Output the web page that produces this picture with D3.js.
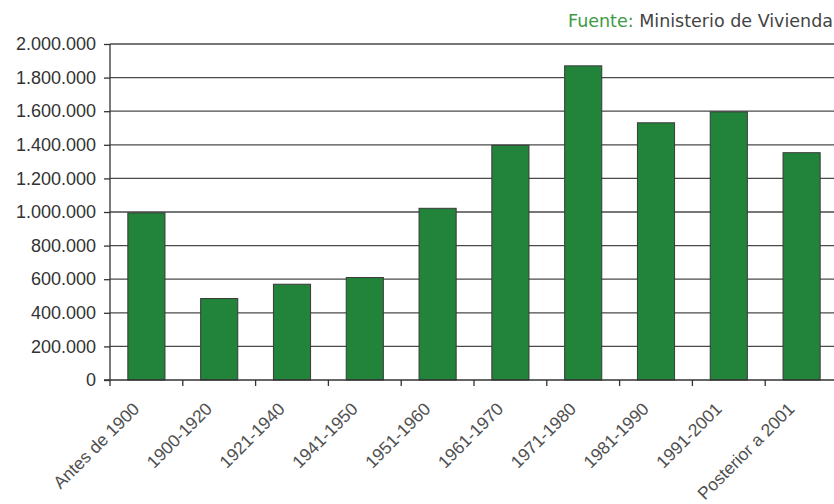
<!DOCTYPE html>
<html>
<head>
<meta charset="utf-8">
<script src="https://cdn.jsdelivr.net/npm/d3@7"></script>
<style>
  html, body { margin: 0; padding: 0; background: #fff; }
  svg { display: block; }
</style>
</head>
<body>
<svg id="chart" width="834" height="504"></svg>
<script>
const categories = ["Antes de 1900", "1900-1920", "1921-1940", "1941-1950", "1951-1960",
                    "1961-1970", "1971-1980", "1981-1990", "1991-2001", "Posterior a 2001"];
const values = [995000, 485000, 570000, 610000, 1022000, 1397000, 1870000, 1531000, 1596000, 1353000];
const yTicks = [0, 200000, 400000, 600000, 800000, 1000000, 1200000, 1400000, 1600000, 1800000, 2000000];
const sourceLabel = "Fuente:";
const sourceText = " Ministerio de Vivienda";

const svg = d3.select("#chart");
const mLeft = 110, mRight = 838, mTop = 44, mBottom = 380;

const x = d3.scaleBand().domain(categories).range([mLeft, mRight]).paddingInner(0.49).paddingOuter(0.245);
const y = d3.scaleLinear().domain([0, 2000000]).range([mBottom, mTop]);

const loc = d3.formatLocale({decimal: ",", thousands: ".", grouping: [3], currency: ["", "€"]});
const fmt = loc.format(",d");

// gridlines
svg.append("g").selectAll("line").data(yTicks.filter(d => d > 0)).join("line")
  .attr("x1", mLeft).attr("x2", 834)
  .attr("y1", d => y(d)).attr("y2", d => y(d))
  .attr("stroke", "#4a4a4a").attr("stroke-width", 1.3);

// y axis
const yAxis = d3.axisLeft(y).tickValues(yTicks).tickFormat(fmt).tickSize(6).tickPadding(8);
const gy = svg.append("g").attr("transform", `translate(${mLeft},0)`).call(yAxis);
gy.select(".domain").remove();
gy.selectAll(".tick line").attr("stroke", "#333").attr("stroke-width", 1.3);
gy.selectAll(".tick text").attr("fill", "#333")
  .style("font-family", "'Liberation Sans', Arial, sans-serif").style("font-size", "18px");
svg.append("line").attr("x1", mLeft).attr("x2", mLeft).attr("y1", y(2000000)).attr("y2", mBottom)
  .attr("stroke", "#333").attr("stroke-width", 1.3);

// bars
svg.append("g").selectAll("rect").data(values).join("rect")
  .attr("x", (d, i) => x(categories[i]))
  .attr("y", d => y(d))
  .attr("width", x.bandwidth())
  .attr("height", d => mBottom - y(d))
  .attr("fill", "#22833a")
  .attr("stroke", "#3a3a3a").attr("stroke-width", 1);

// x axis line
svg.append("line").attr("x1", mLeft - 6).attr("x2", 834).attr("y1", mBottom).attr("y2", mBottom)
  .attr("stroke", "#333").attr("stroke-width", 1.3);

// x ticks at category boundaries
const gap = (x.step() - x.bandwidth()) / 2;
const bounds = categories.map(c => x(c) - gap);
svg.append("g").selectAll("line").data(bounds).join("line")
  .attr("x1", d => d).attr("x2", d => d).attr("y1", mBottom).attr("y2", mBottom + 6)
  .attr("stroke", "#333").attr("stroke-width", 1.3);

// x labels
svg.append("g").selectAll("text").data(categories).join("text")
  .attr("transform", d => `translate(${x(d) + x.bandwidth() / 2 - 6},${mBottom + 30}) rotate(-45)`)
  .attr("text-anchor", "end")
  .attr("fill", "#505050")
  .style("font-family", "'Liberation Sans', Arial, sans-serif").style("font-size", "17.5px")
  .text(d => d);

// source
const src = svg.append("text").attr("x", 833).attr("y", 27).attr("text-anchor", "end")
  .style("font-family", "'DejaVu Sans', Verdana, sans-serif").style("font-size", "17.5px");
src.append("tspan").attr("fill", "#3d9a45").text(sourceLabel);
src.append("tspan").attr("fill", "#444").text(sourceText);
</script>
</body>
</html>
